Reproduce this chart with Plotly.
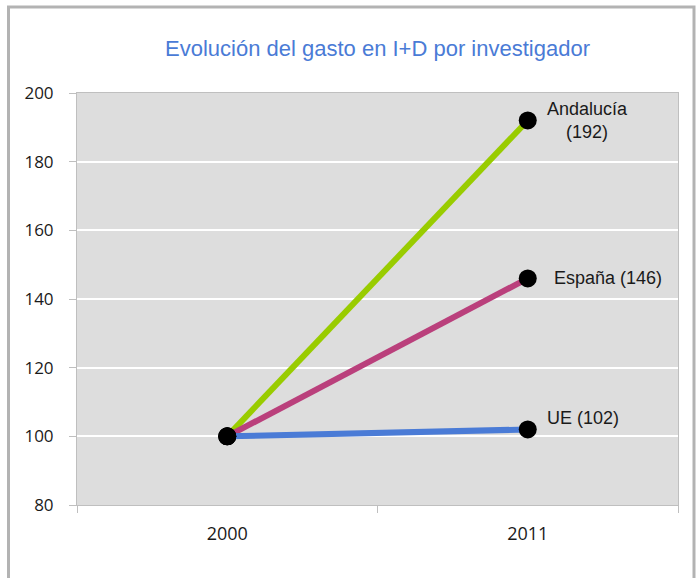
import plotly.graph_objects as go

years = ["2000", "2011"]
andalucia = [100, 192]
espana = [100, 146]
ue = [100, 102]
series_names = ["Andalucía", "España", "UE"]
series_colors = ["#99CC00", "#BA407C", "#4A7BD6"]
label_texts = ["Andalucía<br>(192)", "España (146)", "UE (102)"]
y_ticks = [80, 100, 120, 140, 160, 180, 200]

W, H = 697, 578
L, R, T, B = 77, 19, 93, 73
pw, ph = W - L - R, H - T - B

fig = go.Figure()
for name, vals, col in zip(series_names, [andalucia, espana, ue], series_colors):
    fig.add_trace(go.Scatter(x=years, y=vals, mode="lines", name=name,
                             line=dict(color=col, width=6), showlegend=False,
                             hoverinfo="skip"))
for name, vals in zip(series_names, [andalucia, espana, ue]):
    fig.add_trace(go.Scatter(x=years, y=vals, mode="markers", name=name,
                             marker=dict(color="black", size=18), showlegend=False))

txtfont = "Liberation Sans, Arial, sans-serif"
ann_specs = [
    (andalucia[1], 60, 0, "center", label_texts[0]),
    (espana[1], 24, 0, "left", label_texts[1]),
    (ue[1], 17, 11, "left", label_texts[2]),
]
annotations = []
for yv, xs, ys, anchor, txt in ann_specs:
    annotations.append(dict(x=1, y=yv, xref="x", yref="y", text=txt,
                            showarrow=False, xanchor=anchor, yanchor="middle",
                            xshift=xs, yshift=ys, align="center",
                            font=dict(family=txtfont, size=18, color="#1a1a1a")))

# outer chart frame
shapes = [dict(type="rect", xref="paper", yref="paper",
               x0=(8.5 - L) / pw, x1=(694 - L) / pw,
               y0=(H - B - 620) / ph, y1=(H - B - 7) / ph,
               line=dict(color="#B3B3B3", width=3), fillcolor="rgba(0,0,0,0)",
               layer="above")]

fig.update_layout(
    width=W, height=H,
    margin=dict(l=L, r=R, t=T, b=B),
    paper_bgcolor="white",
    plot_bgcolor="#DDDDDD",
    annotations=annotations,
    shapes=shapes,
    title=dict(text="Evolución del gasto en I+D por investigador",
               x=(L + pw / 2) / W, xanchor="center",
               y=1 - 48 / H, yanchor="middle",
               font=dict(family=txtfont, size=22, color="#4A7BD6")),
    xaxis=dict(type="category", range=[-0.5, 1.5], showgrid=False,
               tickson="boundaries", ticks="outside", ticklen=7,
               tickcolor="#BFBFBF", showline=True, linecolor="#BFBFBF",
               linewidth=1, mirror=True, zeroline=False,
               tickfont=dict(family="Open Sans, Liberation Sans, sans-serif",
                             size=18, color="#1a1a1a"),
               ticklabelstandoff=12),
    yaxis=dict(range=[80, 200], tickvals=y_ticks, showgrid=True,
               gridcolor="white", gridwidth=2, ticks="outside", ticklen=7,
               tickcolor="#BFBFBF", showline=True, linecolor="#BFBFBF",
               linewidth=1, mirror=True, zeroline=False,
               tickfont=dict(family="Open Sans, Liberation Sans, sans-serif",
                             size=17, color="#1a1a1a"),
               ticklabelstandoff=12),
)

fig.write_html("out.html", config={"displayModeBar": False},
               post_script="document.body.style.margin='0px';")
